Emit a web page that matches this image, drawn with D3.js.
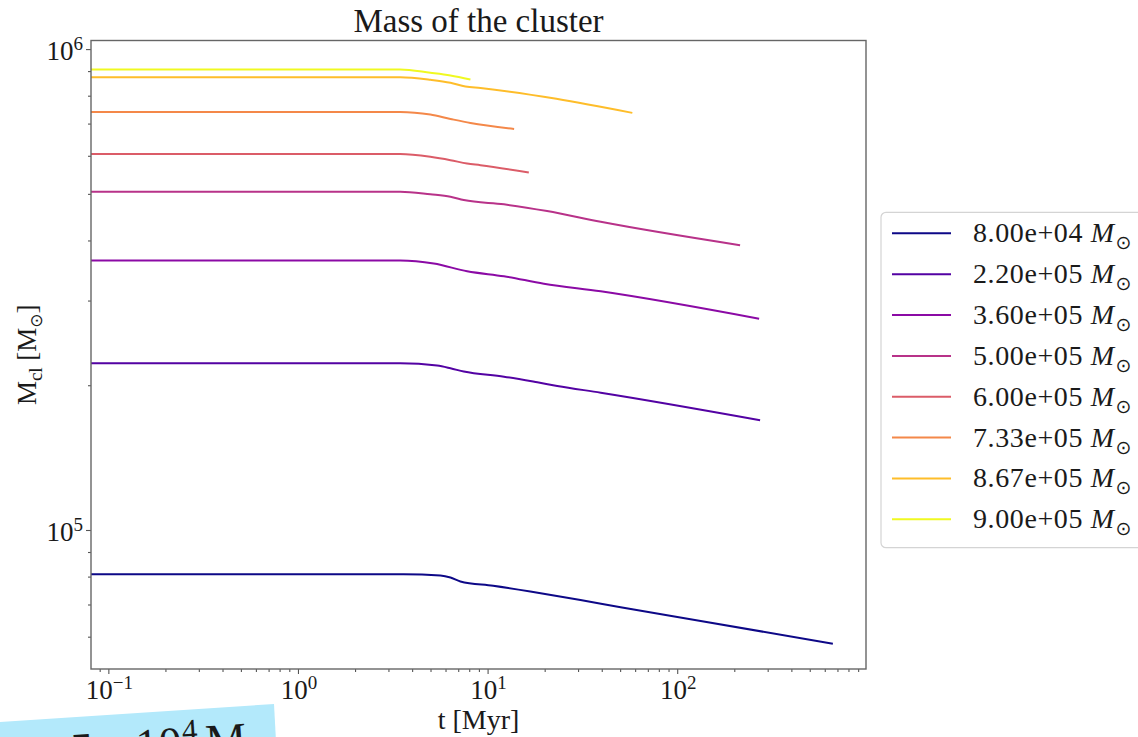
<!DOCTYPE html>
<html>
<head>
  <meta charset="utf-8">
  <title>Mass of the cluster</title>
  <script src="https://d3js.org/d3.v7.min.js"></script>
  <style>
    body { margin: 0; background: #fff; overflow: hidden; }
    text { font-family: "Liberation Serif", "DejaVu Serif", serif; fill: #1a1a1a; }
  </style>
</head>
<body>
<div id="my_dataviz"></div>
<script>

// ---- data (t in Myr, mass in solar masses) ----
var massLabels = ["8.00e+04", "2.20e+05", "3.60e+05", "5.00e+05",
                  "6.00e+05", "7.33e+05", "8.67e+05", "9.00e+05"];

var time80k  = [0.08, 3.6, 5.64, 6.37, 7.19, 10.7, 16.8, 30.9, 50.3, 133, 662];
var mass80k  = [80930, 80930, 80430, 79660, 78140, 76540, 74470, 71500, 69100, 64700, 58000];

var time220k = [0.08, 3.46, 5.42, 6.37, 7.49, 12.2, 18.3, 23.3, 39.5, 273.6];
var mass220k = [222200, 222200, 219700, 216900, 213500, 208400, 202800, 199300, 193000, 169200];

var time360k = [0.08, 3.46, 5.2, 7.8, 12.2, 19.8, 39.5, 270.4];
var mass360k = [363400, 363400, 358200, 345100, 336900, 325300, 313500, 274900];

var time500k = [0.08, 3.46, 4.99, 6.37, 7.49, 12.2, 20.6, 39.5, 214.6];
var mass500k = [505200, 505200, 498900, 493200, 485400, 475500, 460500, 437400, 391000];

var time600k = [0.08, 3.46, 4.99, 6.37, 7.8, 9.17, 16.5];
var mass600k = [604800, 604800, 597000, 587600, 578100, 573700, 553600];

var time733k = [0.08, 3.46, 4.99, 6.37, 8.12, 13.8];
var mass733k = [740300, 740300, 730800, 715800, 702100, 682200];

var time867k = [0.08, 3.46, 4.99, 6.37, 7.64, 9.17, 58.0];
var mass867k = [873900, 873900, 863100, 850800, 835800, 829800, 736800];

var time900k = [0.08, 3.46, 4.99, 6.37, 8.12];
var mass900k = [907000, 907000, 892700, 881300, 864500];

var xMajor = [0.1, 1, 10, 100];
var xExponents = ["\u22121", "0", "1", "2"];
var yMajor = [1e5, 1e6];
var yExponents = ["5", "6"];

var times  = [time80k, time220k, time360k, time500k, time600k, time733k, time867k, time900k];
var masses = [mass80k, mass220k, mass360k, mass500k, mass600k, mass733k, mass867k, mass900k];

var series = massLabels.map(function(lab, i) {
  return {
    label: lab,
    color: d3.interpolatePlasma(i / (massLabels.length - 1)),
    points: times[i].map(function(t, j) { return {t: t, m: masses[i][j]}; })
  };
});

// ---- layout ----
var W = 1138, H = 737;
var margin = {top: 40.5, right: 272, bottom: 68, left: 91};
var innerW = W - margin.left - margin.right,
    innerH = H - margin.top - margin.bottom;

var svg = d3.select("#my_dataviz")
  .append("svg")
    .attr("width", W)
    .attr("height", H);

var g = svg.append("g")
    .attr("transform", "translate(" + margin.left + "," + margin.top + ")");

// scales
var x = d3.scaleLog().domain([0.081, 990]).range([0, innerW]);
var y = d3.scaleLog().domain([51400, 1.042e6]).range([innerH, 0]);

var xMinor = x.ticks().filter(function(v) { return Math.abs(Math.log10(v) % 1) > 1e-6; });
var yMinor = y.ticks().filter(function(v) { return Math.abs(Math.log10(v) % 1) > 1e-6; });

// axes (ticks only, labels drawn below with superscripts)
var tickColor = "#555";
function styleAxis(sel) {
  sel.select(".domain").remove();
  sel.selectAll(".tick line").attr("stroke", tickColor).attr("stroke-width", 1.1);
}
g.append("g").attr("transform", "translate(0," + innerH + ")")
  .call(d3.axisBottom(x).tickValues(xMajor).tickSize(5).tickFormat(""))
  .call(styleAxis);
g.append("g").attr("transform", "translate(0," + innerH + ")")
  .call(d3.axisBottom(x).tickValues(xMinor).tickSize(3).tickFormat(""))
  .call(styleAxis);
g.append("g")
  .call(d3.axisLeft(y).tickValues(yMajor).tickSize(5).tickFormat(""))
  .call(styleAxis);
g.append("g")
  .call(d3.axisLeft(y).tickValues(yMinor).tickSize(3).tickFormat(""))
  .call(styleAxis);

// x tick labels 10^n
xMajor.forEach(function(v, i) {
  var t = g.append("text")
    .attr("x", x(v) + 1)
    .attr("y", innerH + 30)
    .attr("text-anchor", "middle")
    .style("font-size", "27px");
  t.append("tspan").text("10");
  t.append("tspan").attr("dy", -10).style("font-size", "19px").text(xExponents[i]);
});

// y tick labels 10^n
yMajor.forEach(function(v, i) {
  var t = g.append("text")
    .attr("x", -8)
    .attr("y", y(v) + 11)
    .attr("text-anchor", "end")
    .style("font-size", "27px");
  t.append("tspan").text("10");
  t.append("tspan").attr("dy", -10).style("font-size", "19px").text(yExponents[i]);
});

// clip + lines
g.append("clipPath").attr("id", "plotclip")
  .append("rect").attr("width", innerW).attr("height", innerH);

var line = d3.line()
  .x(function(d) { return x(d.t); })
  .y(function(d) { return y(d.m); })
  .curve(d3.curveMonotoneX);

g.append("g").attr("clip-path", "url(#plotclip)")
  .selectAll("path")
  .data(series)
  .enter()
  .append("path")
    .attr("d", function(d) { return line(d.points); })
    .attr("fill", "none")
    .attr("stroke", function(d) { return d.color; })
    .attr("stroke-width", 2);

// frame
g.append("rect")
  .attr("width", innerW).attr("height", innerH)
  .attr("fill", "none")
  .attr("stroke", "#666")
  .attr("stroke-width", 1.4);

// title and axis labels
svg.append("text")
  .attr("x", margin.left + innerW / 2)
  .attr("y", 32)
  .attr("text-anchor", "middle")
  .style("font-size", "33px")
  .text("Mass of the cluster");

svg.append("text")
  .attr("x", margin.left + innerW / 2)
  .attr("y", 729)
  .attr("text-anchor", "middle")
  .style("font-size", "28px")
  .text("t [Myr]");

var yl = svg.append("text")
  .attr("transform", "translate(36," + (margin.top + innerH / 2) + ") rotate(-90)")
  .attr("text-anchor", "middle")
  .style("font-size", "27px");
yl.append("tspan").text("M");
yl.append("tspan").attr("dy", 6).style("font-size", "19px").text("cl");
yl.append("tspan").attr("dy", -6).text(" [M");
yl.append("tspan").attr("dy", 6).style("font-size", "17px").style("font-family", "DejaVu Sans").text("\u2299");
yl.append("tspan").attr("dy", -6).text("]");

// legend
var legend = svg.append("g");
legend.append("rect")
  .attr("x", 881).attr("y", 212.3)
  .attr("width", 300).attr("height", 335.4)
  .attr("rx", 5)
  .attr("fill", "#fff")
  .attr("stroke", "#d4d4d4")
  .attr("stroke-width", 1.2);

var rows = legend.selectAll("g.row")
  .data(series)
  .enter()
  .append("g")
    .attr("class", "row")
    .attr("transform", function(d, i) { return "translate(0," + (233.3 + i * 40.86) + ")"; });

rows.append("line")
  .attr("x1", 892).attr("x2", 951)
  .attr("stroke", function(d) { return d.color; })
  .attr("stroke-width", 2);

var lt = rows.append("text")
  .attr("x", 973)
  .attr("y", 9)
  .style("font-size", "28px")
  .style("letter-spacing", "0.6px");
lt.append("tspan").text(function(d) { return d.label + " "; });
lt.append("tspan").style("font-style", "italic").text("M");
lt.append("tspan").attr("dy", 7).attr("dx", 1).style("font-size", "19px").style("font-family", "DejaVu Sans").text("\u2299");

// cut-off slide box in the bottom-left corner
svg.append("polygon")
  .attr("points", "0,722 274,704 277,760 0,760")
  .attr("fill", "#b3e9fb");
var note = svg.append("g")
  .attr("transform", "translate(0,770) rotate(-3.76)")
  .style("font-size", "46px");
note.append("text").attr("x", 8).style("font-style", "italic").text("t");
note.append("text").attr("x", 34).text("=");
note.append("text").attr("x", 72).text("5");
note.append("text").attr("x", 103).text("\u00d7");
note.append("text").attr("x", 137).text("10");
note.append("text").attr("x", 184).attr("y", -17).style("font-size", "31px").text("4");
note.append("text").attr("x", 207).text("M");

</script>
</body>
</html>
